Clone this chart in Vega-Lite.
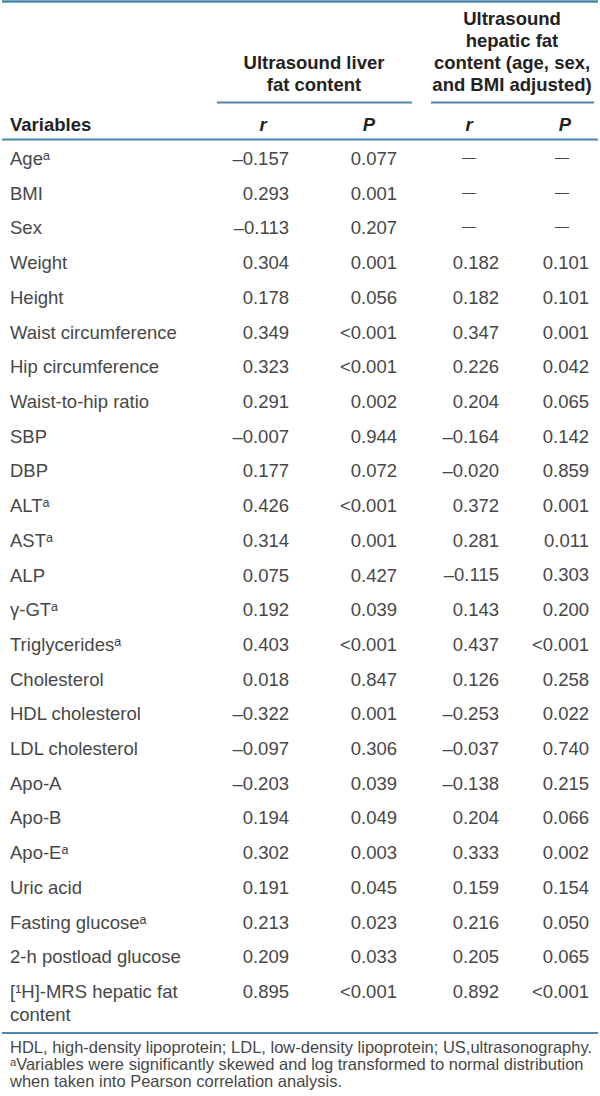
{
  "$schema": "https://vega.github.io/schema/vega-lite/v6.json",
  "width": 600,
  "height": 1096,
  "autosize": {"type": "fit", "contains": "padding"},
  "padding": 0,
  "background": "white",
  "config": {"view": {"stroke": null}, "axis": {"disable": true}},
  "datasets": {
    "rows": [
      {"variable": "Ageᵃ", "r1": "–0.157", "p1": "0.077", "r2": "—", "p2": "—"},
      {"variable": "BMI", "r1": "0.293", "p1": "0.001", "r2": "—", "p2": "—"},
      {"variable": "Sex", "r1": "–0.113", "p1": "0.207", "r2": "—", "p2": "—"},
      {"variable": "Weight", "r1": "0.304", "p1": "0.001", "r2": "0.182", "p2": "0.101"},
      {"variable": "Height", "r1": "0.178", "p1": "0.056", "r2": "0.182", "p2": "0.101"},
      {"variable": "Waist circumference", "r1": "0.349", "p1": "<0.001", "r2": "0.347", "p2": "0.001"},
      {"variable": "Hip circumference", "r1": "0.323", "p1": "<0.001", "r2": "0.226", "p2": "0.042"},
      {"variable": "Waist-to-hip ratio", "r1": "0.291", "p1": "0.002", "r2": "0.204", "p2": "0.065"},
      {"variable": "SBP", "r1": "–0.007", "p1": "0.944", "r2": "–0.164", "p2": "0.142"},
      {"variable": "DBP", "r1": "0.177", "p1": "0.072", "r2": "–0.020", "p2": "0.859"},
      {"variable": "ALTᵃ", "r1": "0.426", "p1": "<0.001", "r2": "0.372", "p2": "0.001"},
      {"variable": "ASTᵃ", "r1": "0.314", "p1": "0.001", "r2": "0.281", "p2": "0.011"},
      {"variable": "ALP", "r1": "0.075", "p1": "0.427", "r2": "–0.115", "p2": "0.303"},
      {"variable": "γ-GTᵃ", "r1": "0.192", "p1": "0.039", "r2": "0.143", "p2": "0.200"},
      {"variable": "Triglyceridesᵃ", "r1": "0.403", "p1": "<0.001", "r2": "0.437", "p2": "<0.001"},
      {"variable": "Cholesterol", "r1": "0.018", "p1": "0.847", "r2": "0.126", "p2": "0.258"},
      {"variable": "HDL cholesterol", "r1": "–0.322", "p1": "0.001", "r2": "–0.253", "p2": "0.022"},
      {"variable": "LDL cholesterol", "r1": "–0.097", "p1": "0.306", "r2": "–0.037", "p2": "0.740"},
      {"variable": "Apo-A", "r1": "–0.203", "p1": "0.039", "r2": "–0.138", "p2": "0.215"},
      {"variable": "Apo-B", "r1": "0.194", "p1": "0.049", "r2": "0.204", "p2": "0.066"},
      {"variable": "Apo-Eᵃ", "r1": "0.302", "p1": "0.003", "r2": "0.333", "p2": "0.002"},
      {"variable": "Uric acid", "r1": "0.191", "p1": "0.045", "r2": "0.159", "p2": "0.154"},
      {"variable": "Fasting glucoseᵃ", "r1": "0.213", "p1": "0.023", "r2": "0.216", "p2": "0.050"},
      {"variable": "2-h postload glucose", "r1": "0.209", "p1": "0.033", "r2": "0.205", "p2": "0.065"},
      {"variable": "[¹H]-MRS hepatic fat\ncontent", "r1": "0.895", "p1": "<0.001", "r2": "0.892", "p2": "<0.001"}
    ],
    "header": [
      {"part": "head", "col": "variable", "text": "Variables"},
      {"part": "head", "col": "r1", "text": "r"},
      {"part": "head", "col": "p1", "text": "P"},
      {"part": "head", "col": "r2", "text": "r"},
      {"part": "head", "col": "p2", "text": "P"}
    ],
    "groups": [
      {"grp": "liver", "text": "Ultrasound liver\nfat content"},
      {"grp": "hepatic", "text": "Ultrasound\nhepatic fat\ncontent (age, sex,\nand BMI adjusted)"}
    ],
    "rules": [
      {"rule": "top"},
      {"rule": "head"},
      {"rule": "bottom"}
    ],
    "spans": [
      {"grp": "liver", "from": "start", "to": "end"},
      {"grp": "hepatic", "from": "start", "to": "end"}
    ],
    "notes": [
      {"part": "note", "line": "1", "text": "HDL, high-density lipoprotein; LDL, low-density lipoprotein; US,ultrasonography."},
      {"part": "note", "line": "2", "text": "ᵃVariables were significantly skewed and log transformed to normal distribution"},
      {"part": "note", "line": "3", "text": "when taken into Pearson correlation analysis."}
    ]
  },
  "resolve": {"scale": {"x": "independent", "y": "independent"}},
  "layer": [
    {
      "data": {"name": "rows"},
      "transform": [{"fold": ["variable"], "as": ["col", "val"]}],
      "mark": {"type": "text", "align": "left", "baseline": "middle", "font": "Liberation Sans", "fontSize": 18.5, "color": "#474747", "lineBreak": "\n", "lineHeight": 23},
      "encoding": {
        "x": {"field": "col", "type": "nominal", "axis": null, "scale": {"type": "point", "domain": ["variable"], "range": [8, 8]}},
        "y": {"field": "variable", "type": "nominal", "axis": null, "sort": null, "scale": {"type": "point", "padding": 0, "range": [159, 992]}},
        "text": {"field": "variable"}
      }
    },
    {
      "data": {"name": "rows"},
      "transform": [{"fold": ["r1", "p1"], "as": ["col", "val"]}],
      "mark": {"type": "text", "align": "right", "baseline": "middle", "font": "Liberation Sans", "fontSize": 18.5, "color": "#474747"},
      "encoding": {
        "x": {"field": "col", "type": "nominal", "axis": null, "scale": {"type": "point", "padding": 0, "domain": ["r1", "p1"], "range": [287, 395]}},
        "y": {"field": "variable", "type": "nominal", "axis": null, "sort": null, "scale": {"type": "point", "padding": 0, "range": [159, 992]}},
        "text": {"field": "val"}
      }
    },
    {
      "data": {"name": "rows"},
      "transform": [{"fold": ["r2", "p2"], "as": ["col", "val"]}, {"filter": "datum.val !== '—'"}],
      "mark": {"type": "text", "align": "right", "baseline": "middle", "font": "Liberation Sans", "fontSize": 18.5, "color": "#474747"},
      "encoding": {
        "x": {"field": "col", "type": "nominal", "axis": null, "scale": {"type": "point", "padding": 0, "domain": ["r2", "p2"], "range": [497, 587]}},
        "y": {"field": "variable", "type": "nominal", "axis": null, "sort": null, "scale": {"type": "point", "padding": 0, "range": [263.1, 992]}},
        "text": {"field": "val"}
      }
    },
    {
      "data": {"name": "rows"},
      "transform": [{"fold": ["r2", "p2"], "as": ["col", "val"]}, {"filter": "datum.val === '—'"}],
      "mark": {"type": "text", "align": "center", "baseline": "middle", "font": "Liberation Sans", "fontSize": 14, "color": "#474747"},
      "encoding": {
        "x": {"field": "col", "type": "nominal", "axis": null, "scale": {"type": "point", "padding": 0, "domain": ["r2", "p2"], "range": [467, 560]}},
        "y": {"field": "variable", "type": "nominal", "axis": null, "sort": null, "scale": {"type": "point", "padding": 0, "range": [158, 227.4]}},
        "text": {"field": "val"}
      }
    },
    {
      "data": {"name": "header"},
      "transform": [{"filter": "datum.col === 'variable'"}],
      "mark": {"type": "text", "align": "left", "baseline": "middle", "font": "Liberation Sans", "fontSize": 18.5, "fontWeight": "bold", "color": "#222222"},
      "encoding": {
        "x": {"field": "col", "type": "nominal", "axis": null, "scale": {"type": "point", "domain": ["variable"], "range": [8, 8]}},
        "y": {"field": "part", "type": "nominal", "axis": null, "scale": {"type": "point", "domain": ["head"], "range": [124.5, 124.5]}},
        "text": {"field": "text"}
      }
    },
    {
      "data": {"name": "header"},
      "transform": [{"filter": "datum.col === 'r1' || datum.col === 'p1'"}],
      "mark": {"type": "text", "align": "center", "baseline": "middle", "font": "Liberation Sans", "fontSize": 18.5, "fontWeight": "bold", "fontStyle": "italic", "color": "#222222"},
      "encoding": {
        "x": {"field": "col", "type": "nominal", "axis": null, "scale": {"type": "point", "padding": 0, "domain": ["r1", "p1"], "range": [261, 367]}},
        "y": {"field": "part", "type": "nominal", "axis": null, "scale": {"type": "point", "domain": ["head"], "range": [124.5, 124.5]}},
        "text": {"field": "text"}
      }
    },
    {
      "data": {"name": "header"},
      "transform": [{"filter": "datum.col === 'r2' || datum.col === 'p2'"}],
      "mark": {"type": "text", "align": "center", "baseline": "middle", "font": "Liberation Sans", "fontSize": 18.5, "fontWeight": "bold", "fontStyle": "italic", "color": "#222222"},
      "encoding": {
        "x": {"field": "col", "type": "nominal", "axis": null, "scale": {"type": "point", "padding": 0, "domain": ["r2", "p2"], "range": [467, 563]}},
        "y": {"field": "part", "type": "nominal", "axis": null, "scale": {"type": "point", "domain": ["head"], "range": [124.5, 124.5]}},
        "text": {"field": "text"}
      }
    },
    {
      "data": {"name": "groups"},
      "mark": {"type": "text", "align": "center", "baseline": "middle", "font": "Liberation Sans", "fontSize": 18.5, "fontWeight": "bold", "color": "#222222", "lineBreak": "\n", "lineHeight": 22},
      "encoding": {
        "x": {"field": "grp", "type": "nominal", "axis": null, "scale": {"type": "point", "padding": 0, "domain": ["liver", "hepatic"], "range": [312, 510]}},
        "y": {"field": "grp", "type": "nominal", "axis": null, "scale": {"type": "point", "padding": 0, "domain": ["hepatic", "liver"], "range": [19, 63]}},
        "text": {"field": "text"}
      }
    },
    {
      "data": {"name": "rules"},
      "transform": [{"filter": "datum.rule === 'top'"}],
      "mark": {"type": "rule", "color": "#4a88ad", "strokeWidth": 2.5},
      "encoding": {
        "y": {"field": "rule", "type": "nominal", "axis": null, "scale": {"type": "point", "domain": ["top"], "range": [1.5, 1.5]}}
      }
    },
    {
      "data": {"name": "rules"},
      "transform": [{"filter": "datum.rule === 'head'"}],
      "mark": {"type": "rule", "color": "#4a88ad", "strokeWidth": 2},
      "encoding": {
        "y": {"field": "rule", "type": "nominal", "axis": null, "scale": {"type": "point", "domain": ["head"], "range": [139.5, 139.5]}}
      }
    },
    {
      "data": {"name": "rules"},
      "transform": [{"filter": "datum.rule === 'bottom'"}],
      "mark": {"type": "rule", "color": "#4a88ad", "strokeWidth": 2},
      "encoding": {
        "y": {"field": "rule", "type": "nominal", "axis": null, "scale": {"type": "point", "domain": ["bottom"], "range": [1033, 1033]}}
      }
    },
    {
      "data": {"name": "spans"},
      "transform": [{"filter": "datum.grp === 'liver'"}],
      "mark": {"type": "rule", "color": "#4a88ad", "strokeWidth": 2},
      "encoding": {
        "x": {"field": "from", "type": "nominal", "axis": null, "scale": {"type": "point", "padding": 0, "domain": ["start", "end"], "range": [215, 410]}},
        "x2": {"field": "to"},
        "y": {"field": "grp", "type": "nominal", "axis": null, "scale": {"type": "point", "domain": ["liver"], "range": [102.5, 102.5]}}
      }
    },
    {
      "data": {"name": "spans"},
      "transform": [{"filter": "datum.grp === 'hepatic'"}],
      "mark": {"type": "rule", "color": "#4a88ad", "strokeWidth": 2},
      "encoding": {
        "x": {"field": "from", "type": "nominal", "axis": null, "scale": {"type": "point", "padding": 0, "domain": ["start", "end"], "range": [429, 592]}},
        "x2": {"field": "to"},
        "y": {"field": "grp", "type": "nominal", "axis": null, "scale": {"type": "point", "domain": ["hepatic"], "range": [102.5, 102.5]}}
      }
    },
    {
      "data": {"name": "notes"},
      "mark": {"type": "text", "align": "left", "baseline": "middle", "font": "Liberation Sans", "fontSize": 16.5, "color": "#474747"},
      "encoding": {
        "x": {"field": "part", "type": "nominal", "axis": null, "scale": {"type": "point", "domain": ["note"], "range": [8, 8]}},
        "y": {"field": "line", "type": "nominal", "axis": null, "scale": {"type": "point", "padding": 0, "domain": ["1", "2", "3"], "range": [1048, 1082]}},
        "text": {"field": "text"}
      }
    }
  ]
}
